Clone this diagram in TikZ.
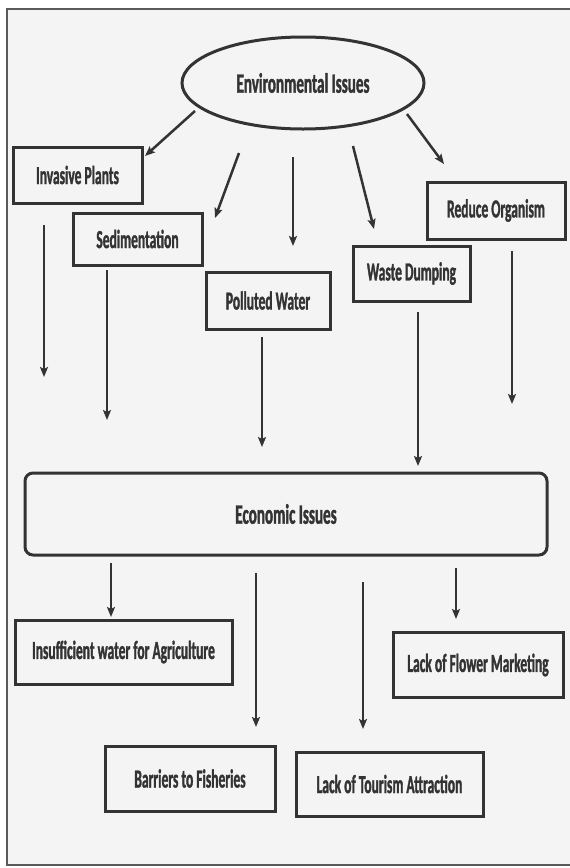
\documentclass[tikz,border=0pt]{standalone}
\usepackage{fontspec}
\usetikzlibrary{shapes.geometric,arrows.meta}
\newfontfamily\lblfont{Carlito Bold}[FakeStretch=0.52, FakeBold=1.2]
\newfontfamily\lblbig{Carlito Bold}[FakeStretch=0.54, FakeBold=1.2]
\definecolor{bgc}{HTML}{F4F4F4}
\definecolor{lnc}{HTML}{333333}
\definecolor{txc}{HTML}{333333}
\definecolor{frc}{HTML}{5A5A5A}
\tikzset{
  boxnode/.style={draw=lnc, line width=3pt, rectangle, inner sep=0pt, align=center,
     text=txc, font=\lblfont\fontsize{26}{28}\selectfont},
  ovalnode/.style={draw=lnc, line width=3pt, ellipse, inner sep=0pt,
     text=txc, font=\lblbig\fontsize{28}{30}\selectfont},
  econnode/.style={draw=lnc, line width=3pt, rectangle, rounded corners=8pt, inner sep=0pt,
     text=txc, font=\lblbig\fontsize{28}{30}\selectfont},
  arr/.style={draw=lnc, line width=2.5pt, -{Stealth[length=10pt,width=8pt,inset=2pt]}}
}
\begin{document}
\begin{tikzpicture}[x=1pt,y=-1pt]
\useasboundingbox (0,0) rectangle (570,868);
\clip (0,0) rectangle (570,868);
\fill[white] (0,0) rectangle (570,868);
\draw[frc, line width=2pt, fill=bgc] (7,9) rectangle (590,865);

% nodes
\node[ovalnode, minimum width=242pt, minimum height=92pt] (env) at (303,83) {Environmental Issues};
\node[boxnode, minimum width=129pt, minimum height=56pt] (inv) at (77.5,175) {Invasive Plants};
\node[boxnode, minimum width=129pt, minimum height=52pt] (sed) at (137.5,239) {Sedimentation};
\node[boxnode, minimum width=124pt, minimum height=57pt] (pol) at (268,300.5) {Polluted Water};
\node[boxnode, minimum width=117pt, minimum height=55pt] (was) at (411.5,273.5) {Waste Dumping};
\node[boxnode, minimum width=138pt, minimum height=57pt] (red) at (496,210.5) {Reduce Organism};
\node[econnode, minimum width=522pt, minimum height=82pt] (eco) at (286,514) {Economic Issues};
\node[boxnode, minimum width=217pt, minimum height=64pt] (ins) at (123.5,652) {Insufficient water for Agriculture};
\node[boxnode, minimum width=170pt, minimum height=65pt] (flo) at (478,665) {Lack of Flower Marketing};
\node[boxnode, minimum width=170pt, minimum height=65pt] (bar) at (190,778.5) {Barriers to Fisheries};
\node[boxnode, minimum width=187pt, minimum height=64pt] (tou) at (389.5,784) {Lack of Tourism Attraction};

% arrow end points
\coordinate (a1s) at (195,111); \coordinate (a1e) at (145,156);
\coordinate (a2s) at (239,153); \coordinate (a2e) at (215,218);
\coordinate (a3s) at (293,157); \coordinate (a3e) at (293,246);
\coordinate (a4s) at (353,146); \coordinate (a4e) at (374,229);
\coordinate (a5s) at (407,114); \coordinate (a5e) at (444,164);
\coordinate (b1s) at (44,225);  \coordinate (b1e) at (44,377);
\coordinate (b2s) at (107,270); \coordinate (b2e) at (107,420);
\coordinate (b3s) at (262,337); \coordinate (b3e) at (262,447);
\coordinate (b4s) at (418,312); \coordinate (b4e) at (418,466);
\coordinate (b5s) at (512,251); \coordinate (b5e) at (512,404);
\coordinate (c1s) at (111,563); \coordinate (c1e) at (111,617);
\coordinate (c2s) at (256,573); \coordinate (c2e) at (256,727);
\coordinate (c3s) at (363,582); \coordinate (c3e) at (363,729);
\coordinate (c4s) at (456,568); \coordinate (c4e) at (456,619);

\foreach \p in {a1,a2,a3,a4,a5,b1,b2,b3,b4,b5,c1,c2,c3,c4}
  \draw[arr] (\p s) -- (\p e);
\end{tikzpicture}
\end{document}
